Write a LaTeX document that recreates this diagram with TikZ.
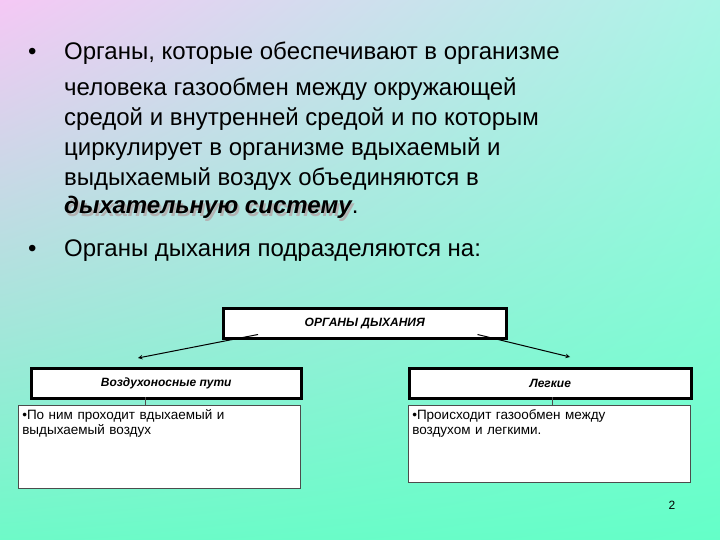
\documentclass[tikz,border=0pt]{standalone}
\usepackage{fontspec}
\setmainfont{Liberation Sans}
\usetikzlibrary{shadings}
\definecolor{cUL}{RGB}{245,200,245}
\definecolor{cUR}{RGB}{170,245,230}
\definecolor{cLL}{RGB}{110,250,200}
\definecolor{cLR}{RGB}{100,255,200}
\begin{document}
\begin{tikzpicture}[x=1pt,y=-1pt,
  head/.style={draw=black,line width=2.5pt,fill=white,anchor=north west,inner sep=0pt,font=\fontsize{12}{14}\selectfont\bfseries\itshape},
  body/.style={draw=black!70,line width=0.6pt,fill=white,anchor=north west,inner sep=4pt,align=left,font=\fontsize{13.5}{15}\selectfont},
  mt/.style={anchor=base west,inner sep=0pt,font=\fontsize{24}{28}\selectfont}]
\shade[upper left=cUL,upper right=cUR,lower left=cLL,lower right=cLR] (0,0) rectangle (720,540);
\useasboundingbox (0,0) rectangle (720,540);
\node[mt] (b1) at (28,60) {•};
\node[mt] (l1) at (64,60) {Органы, которые обеспечивают в организме};
\node[mt] (l2) at (64,96) {человека газообмен между окружающей};
\node[mt] (l3) at (64,126) {средой и внутренней средой и по которым};
\node[mt] (l4) at (64,156) {циркулирует в организме вдыхаемый и};
\node[mt] (l5) at (64,186) {выдыхаемый воздух объединяются в};
\node[mt,text=gray!60] (l6s) at (66,216) {\bfseries\itshape дыхательную систему};
\node[mt] (l6) at (64,214) {\bfseries\itshape дыхательную систему\mdseries\upshape.};
\node[mt] (b2) at (28,256) {•};
\node[mt] (l7) at (64,256) {Органы дыхания подразделяются на:};
\node[head,minimum width=283pt,minimum height=30pt] (top) at (222,307) {ОРГАНЫ ДЫХАНИЯ};
\node[head,minimum width=270pt,minimum height=30pt] (lh) at (30,367) {Воздухоносные пути};
\node[head,minimum width=282pt,minimum height=30pt] (rh) at (408,367) {Легкие};
\node[body,minimum width=282pt,minimum height=83pt,text width=274pt] (lb) at (18,405) {\vbox to 75pt{\hbox{•По ним проходит вдыхаемый и}\hbox{выдыхаемый воздух}\vfill}};
\node[body,minimum width=282pt,minimum height=77pt,text width=274pt] (rb) at (408,405) {\vbox to 69pt{\hbox{•Происходит газообмен между}\hbox{воздухом и легкими.}\vfill}};
\draw[line width=1pt,-stealth] (top.south west)++(36,-5) -- (138,358);
\draw[line width=1pt,-stealth] (top.south east)++(-30,-5) -- (570,357);
\draw[black!70,line width=0.6pt] (145,397) -- (145,405);
\draw[black!70,line width=0.6pt] (552,397) -- (552,405);
\node[font=\fontsize{12}{14}\selectfont] (pg) at (672,505) {2};
\end{tikzpicture}
\end{document}
